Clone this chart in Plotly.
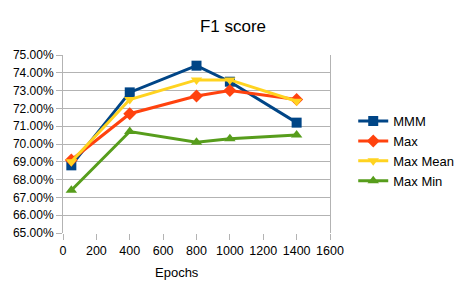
import plotly.graph_objects as go

epochs = [50, 400, 800, 1000, 1400]
mmm = [0.688, 0.729, 0.744, 0.735, 0.712]
max_vals = [0.691, 0.717, 0.727, 0.730, 0.725]
max_mean = [0.690, 0.725, 0.736, 0.736, 0.724]
max_min = [0.674, 0.707, 0.701, 0.703, 0.705]

series = [
    ("MMM", mmm, "#004586", "square", 10),
    ("Max", max_vals, "#ff420e", "diamond", 10),
    ("Max Mean", max_mean, "#ffd320", "triangle-down", 10),
    ("Max Min", max_min, "#579d1c", "triangle-up", 10),
]

fig = go.Figure()
for name, vals, color, sym, sz in series:
    fig.add_trace(go.Scatter(
        x=epochs, y=vals, name=name, mode="lines+markers",
        line=dict(color=color, width=3),
        marker=dict(symbol=sym, size=sz, color=color),
    ))

# page body has an 8px default margin on each side; size the figure so the page fits the window
W, H = 449, 284
fig.update_layout(
    width=W, height=H,
    paper_bgcolor="white", plot_bgcolor="white",
    margin=dict(l=55, r=127, t=47, b=59, autoexpand=False),
    font=dict(family="Liberation Sans, Arial, sans-serif", size=12, color="#000000"),
    title=dict(text="F1 score", x=225 / W, xanchor="center", y=1 - 18 / H, yanchor="middle",
               font=dict(size=17, color="#000000")),
    legend=dict(x=1.087, xanchor="left", y=0.46, yanchor="middle",
                font=dict(size=13), tracegroupgap=0, itemwidth=30,
                bgcolor="rgba(0,0,0,0)"),
    xaxis=dict(range=[0, 1600], tickvals=[0, 200, 400, 600, 800, 1000, 1200, 1400, 1600],
               showgrid=False, zeroline=False, showline=False, automargin=False,
               ticks="outside", ticklen=6, tickcolor="#b3b3b3",
               tickfont=dict(size=12.5)),
    yaxis=dict(range=[0.65, 0.75], dtick=0.01, tickformat=".2%", automargin=False,
               showgrid=True, gridcolor="#b3b3b3", gridwidth=1,
               zeroline=False, showline=True, linecolor="#b3b3b3", mirror=True,
               ticks="outside", ticklen=6, tickcolor="#b3b3b3",
               tickfont=dict(size=12)),
    annotations=[dict(text="Epochs", xref="paper", yref="paper",
                      x=(177 - 8 - 55) / 267, y=-39 / 178,
                      xanchor="center", yanchor="middle", showarrow=False,
                      font=dict(size=13, color="#000000"))],
)

fig.write_html("out.html")
